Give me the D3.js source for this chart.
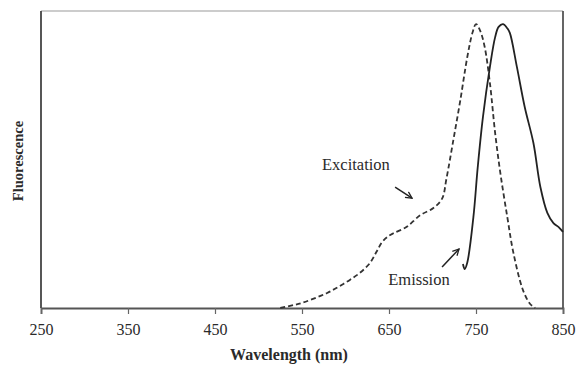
<!DOCTYPE html>
<html>
<head>
<meta charset="utf-8">
<script src="https://cdn.jsdelivr.net/npm/d3@7"></script>
<style>
  body { margin: 0; background: #fff; }
  text { font-family: "Liberation Serif", "Times New Roman", serif; fill: #2a2a2a; }
</style>
</head>
<body>
<div id="chart"></div>
<script>
// Excitation spectrum (dashed), relative intensity
const excitationNm = [525, 540, 550, 565, 579, 592, 605, 617, 628, 636, 642, 648, 655, 670, 686, 701, 711, 716, 724, 732, 740, 746, 750, 755, 760, 766, 772, 778, 786, 793, 804, 812, 818];
const excitationVal = [0, 0.01, 0.018, 0.035, 0.053, 0.075, 0.099, 0.125, 0.158, 0.2, 0.232, 0.25, 0.263, 0.285, 0.327, 0.352, 0.385, 0.455, 0.592, 0.732, 0.884, 0.97, 1.0, 0.975, 0.919, 0.792, 0.616, 0.475, 0.32, 0.194, 0.063, 0.015, 0];

// Emission spectrum (solid)
const emissionNm = [735, 737, 740, 747, 752, 758, 766, 772, 776, 781, 786, 789, 797, 806, 816, 824, 832, 839, 845, 850];
const emissionVal = [0.155, 0.137, 0.16, 0.32, 0.496, 0.673, 0.849, 0.954, 0.99, 1.0, 0.985, 0.968, 0.849, 0.708, 0.581, 0.426, 0.335, 0.299, 0.285, 0.268];

const xTicks = [250, 350, 450, 550, 650, 750, 850];

const width = 584;
const height = 372;
const margin = { top: 11, right: 21, bottom: 64, left: 41 };

const svg = d3.select("#chart")
  .append("svg")
  .attr("width", width)
  .attr("height", height);

const x = d3.scaleLinear()
  .domain([250, 850])
  .range([margin.left, width - margin.right]);

const y = d3.scaleLinear()
  .domain([0, 1.046])
  .range([height - margin.bottom, margin.top]);

// frame: light top line, darker sides
svg.append("line")
  .attr("x1", x(250)).attr("x2", x(850))
  .attr("y1", y.range()[1]).attr("y2", y.range()[1])
  .attr("stroke", "#999").attr("stroke-width", 1.2);

svg.append("line")
  .attr("x1", x(850)).attr("x2", x(850))
  .attr("y1", y.range()[1]).attr("y2", y(0))
  .attr("stroke", "#555").attr("stroke-width", 1.8);

svg.append("line")
  .attr("x1", x(250)).attr("x2", x(250))
  .attr("y1", y.range()[1]).attr("y2", y(0))
  .attr("stroke", "#444").attr("stroke-width", 1.8);

// x axis
const xAxis = d3.axisBottom(x)
  .tickValues(xTicks)
  .tickSize(6)
  .tickPadding(10)
  .tickFormat(d3.format("d"));

const gx = svg.append("g")
  .attr("transform", `translate(0,${y(0)})`)
  .call(xAxis);

gx.select(".domain").attr("stroke", "#555").attr("stroke-width", 1.8);
gx.selectAll(".tick line").attr("stroke", "#666").attr("stroke-width", 1.2);
gx.selectAll(".tick text")
  .attr("font-size", 16)
  .attr("font-family", "Liberation Serif, serif")
  .attr("fill", "#2a2a2a");

// axis titles
svg.append("text")
  .attr("x", 289)
  .attr("y", 360)
  .attr("text-anchor", "middle")
  .attr("font-size", 16)
  .attr("font-weight", "bold")
  .text("Wavelength (nm)");

svg.append("text")
  .attr("transform", "translate(23,161) rotate(-90)")
  .attr("text-anchor", "middle")
  .attr("font-size", 14.5)
  .attr("font-weight", "bold")
  .text("Fluorescence");

// spectra
const line = d3.line()
  .x(d => x(d[0]))
  .y(d => y(d[1]))
  .curve(d3.curveCatmullRom.alpha(0.5));

svg.append("path")
  .datum(d3.zip(excitationNm, excitationVal))
  .attr("d", line)
  .attr("fill", "none")
  .attr("stroke", "#333")
  .attr("stroke-width", 1.8)
  .attr("stroke-dasharray", "5,3");

svg.append("path")
  .datum(d3.zip(emissionNm, emissionVal))
  .attr("d", line)
  .attr("fill", "none")
  .attr("stroke", "#222")
  .attr("stroke-width", 1.8);

// annotations
svg.append("defs").append("marker")
  .attr("id", "head")
  .attr("viewBox", "0 0 10 10")
  .attr("refX", 9).attr("refY", 5)
  .attr("markerWidth", 8).attr("markerHeight", 8)
  .attr("markerUnits", "userSpaceOnUse")
  .attr("orient", "auto")
  .append("path")
  .attr("d", "M1,1 L9,5 L1,9")
  .attr("fill", "none")
  .attr("stroke", "#222")
  .attr("stroke-width", 1.6);

const labels = [
  { text: "Excitation", at: [612, 0.486], from: [657, 0.426], to: [676.5, 0.387] },
  { text: "Emission", at: [684.5, 0.081], from: [711, 0.144], to: [730.5, 0.208] }
];

labels.forEach(l => {
  svg.append("text")
    .attr("x", x(l.at[0]))
    .attr("y", y(l.at[1]))
    .attr("text-anchor", "middle")
    .attr("font-size", 16.5)
    .text(l.text);

  svg.append("line")
    .attr("x1", x(l.from[0])).attr("y1", y(l.from[1]))
    .attr("x2", x(l.to[0])).attr("y2", y(l.to[1]))
    .attr("stroke", "#222")
    .attr("stroke-width", 1.5)
    .attr("marker-end", "url(#head)");
});
</script>
</body>
</html>
